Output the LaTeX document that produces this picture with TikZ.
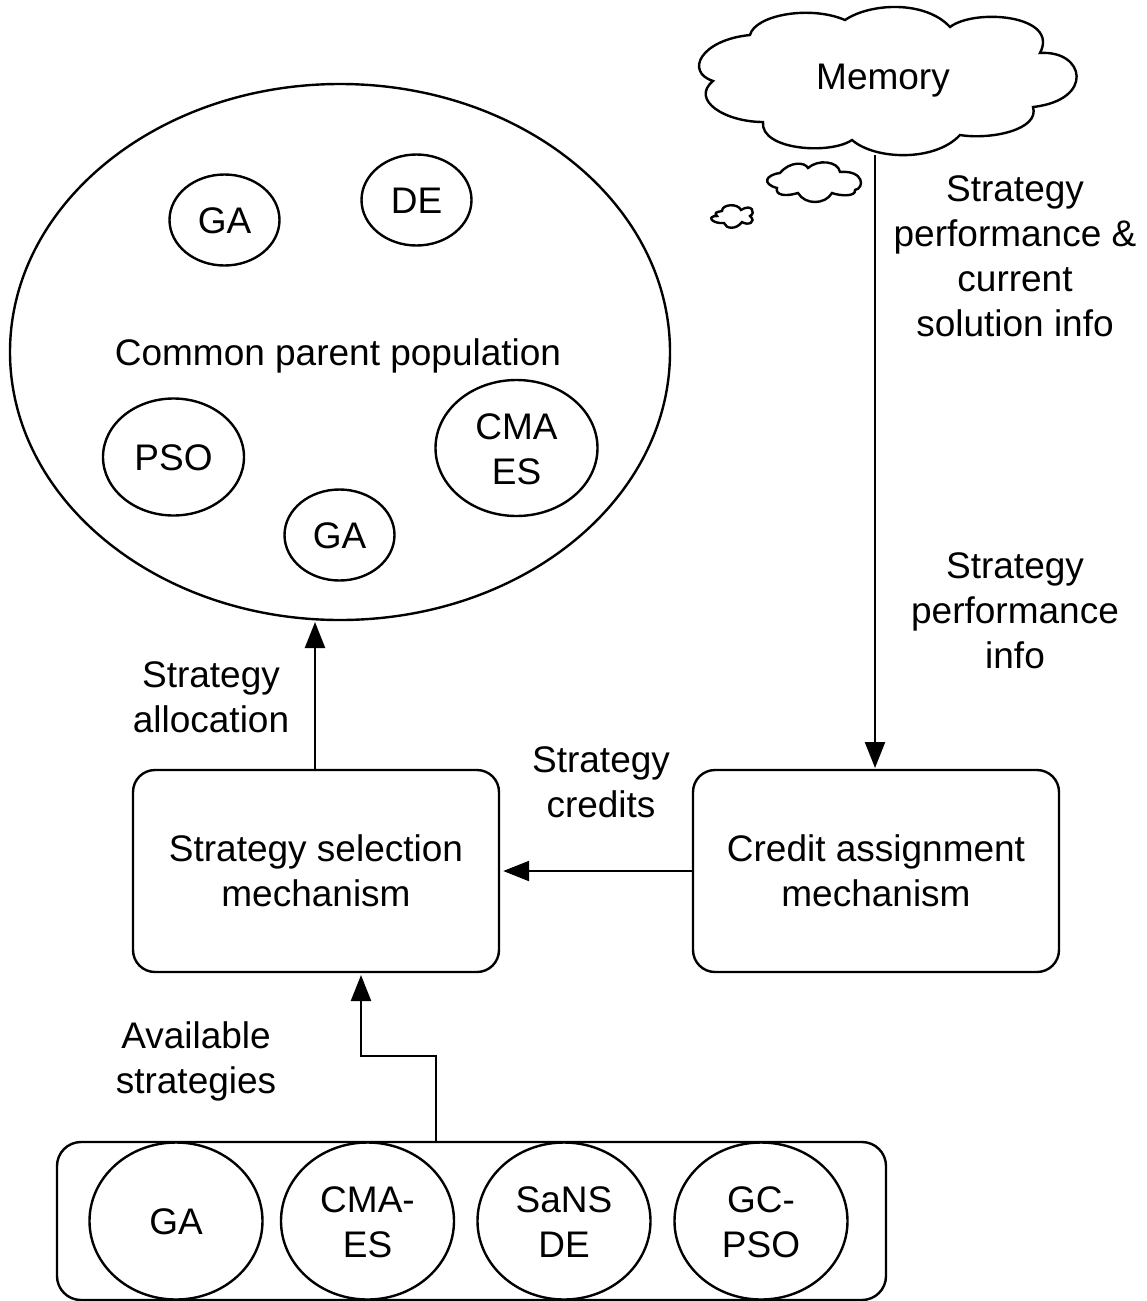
\documentclass[tikz,border=0pt]{standalone}
\usepackage{fontspec}
\setmainfont{Liberation Sans}
\usetikzlibrary{arrows.meta,shapes.geometric}
\tikzset{
  x=1pt,y=-1pt,
  line/.style={line width=2.4pt,black},
  flow/.style={line,-{Triangle[length=26pt,width=20pt]}},
  boxstyle/.style={draw,line,rounded corners=22pt,minimum width=366pt,minimum height=202pt,inner sep=0pt},
  shell/.style={draw,line,rounded corners=24pt,minimum width=829pt,minimum height=158pt,inner sep=0pt},
  blobbase/.style={draw,line,ellipse,inner sep=0pt,align=center},
  blob/.style={blobbase,
    execute at begin node={\rule{0pt}{37.4pt}},
    execute at end node={\rule[-10pt]{0pt}{10pt}}},
  blobtwo/.style={blobbase,
    execute at begin node={\rule{0pt}{82pt}},
    execute at end node={\rule[-10pt]{0pt}{10pt}}},
  txt/.style={align=center,inner sep=0pt},
  cloudline/.style={line,fill=white},
}
\begin{document}
\begin{tikzpicture}[txtfont/.style={font=\fontsize{37}{45}\selectfont}]
\useasboundingbox (0,0) rectangle (1146,1301);
\tikzset{every node/.append style={txtfont}}
% clouds
\draw[cloudline] (750,35) .. controls (755,15) and (810,5) .. (845,20)
  .. controls (870,3) and (925,0) .. (950,27)
  .. controls (975,8) and (1060,15) .. (1040,53)
  .. controls (1085,50) and (1095,100) .. (1033,107)
  .. controls (1040,130) and (990,140) .. (960,135)
  .. controls (935,162) and (875,160) .. (852,140)
  .. controls (830,155) and (760,150) .. (763,122)
  .. controls (725,122) and (690,100) .. (713,81)
  .. controls (685,72) and (700,40) .. (750,35) -- cycle;
\draw[cloudline] (780,173) .. controls (790,161) and (805,162) .. (808,168)
  .. controls (818,159) and (838,161) .. (840,172)
  .. controls (864,170) and (865,188) .. (855,190)
  .. controls (856,197) and (840,196) .. (832,193)
  .. controls (825,205) and (805,205) .. (798,193)
  .. controls (785,197) and (775,195) .. (777,188)
  .. controls (762,184) and (765,175) .. (780,173) -- cycle;
\draw[cloudline] (722,211) .. controls (722,204) and (738,203) .. (741,210)
  .. controls (752,203) and (756,213) .. (750,216)
  .. controls (757,222) and (748,226) .. (742,222)
  .. controls (736,230) and (726,229) .. (724,223)
  .. controls (712,224) and (706,216) .. (717,216)
  .. controls (714,213) and (716,212) .. (722,211) -- cycle;
\node[txt] (memory) at (883,81) {Memory};
\coordinate (memout) at (875,155);
% population
\node[blobbase,minimum width=660pt,minimum height=536pt] (pop) at (340,352) {};
\node[blob,minimum width=110pt,minimum height=91pt] (ga1) at (224.5,220) {GA};
\node[blob,minimum width=110pt,minimum height=91pt] (de) at (416.5,200) {DE};
\node[txt] (poplabel) at (338,356) {Common parent population};
\node[blob,minimum width=141pt,minimum height=117pt] (pso) at (173.5,457) {PSO};
\node[blobtwo,minimum width=162pt,minimum height=136pt] (cma) at (516.5,448) {CMA\\ES};
\node[blob,minimum width=110pt,minimum height=91pt] (ga2) at (339.5,535) {GA};
% mechanisms
\node[boxstyle,align=center] (sel) at (316,871) {Strategy selection\\mechanism};
\node[boxstyle,align=center] (cred) at (876,871) {Credit assignment\\mechanism};
% available strategies
\node[shell] (shell) at (471.5,1221) {};
\node[blob,minimum width=173pt,minimum height=157pt] (s1) at (176,1221) {GA};
\node[blobtwo,minimum width=173pt,minimum height=157pt] (s2) at (367.5,1221) {CMA-\\ES};
\node[blobtwo,minimum width=173pt,minimum height=157pt] (s3) at (564,1221) {SaNS\\DE};
\node[blobtwo,minimum width=173pt,minimum height=157pt] (s4) at (761,1221) {GC-\\PSO};
% connectors
\coordinate (popin) at (315,622);
\coordinate (selout) at (315,770);
\coordinate (credin) at (875,768);
\coordinate (shellout) at (436,1142);
\coordinate (selin) at (361,975);
\coordinate (bendA) at (436,1056);
\coordinate (bendB) at (361,1056);
\draw[flow] (memout) -- (credin);
\draw[flow] (selout) -- (popin);
\draw[flow,shorten >=3pt] (cred.west) -- (sel.east);
\draw[flow] (shellout) -- (bendA) -- (bendB) -- (selin);
% labels
\node[txt] (l1) at (1015,256) {Strategy\\performance \&\\current\\solution info};
\node[txt] (l2) at (1015,611) {Strategy\\performance\\info};
\node[txt] (l3) at (211,697) {Strategy\\allocation};
\node[txt] (l4) at (601,782) {Strategy\\credits};
\node[txt] (l5) at (196,1061) {Available\\strategies};
\end{tikzpicture}
\end{document}
